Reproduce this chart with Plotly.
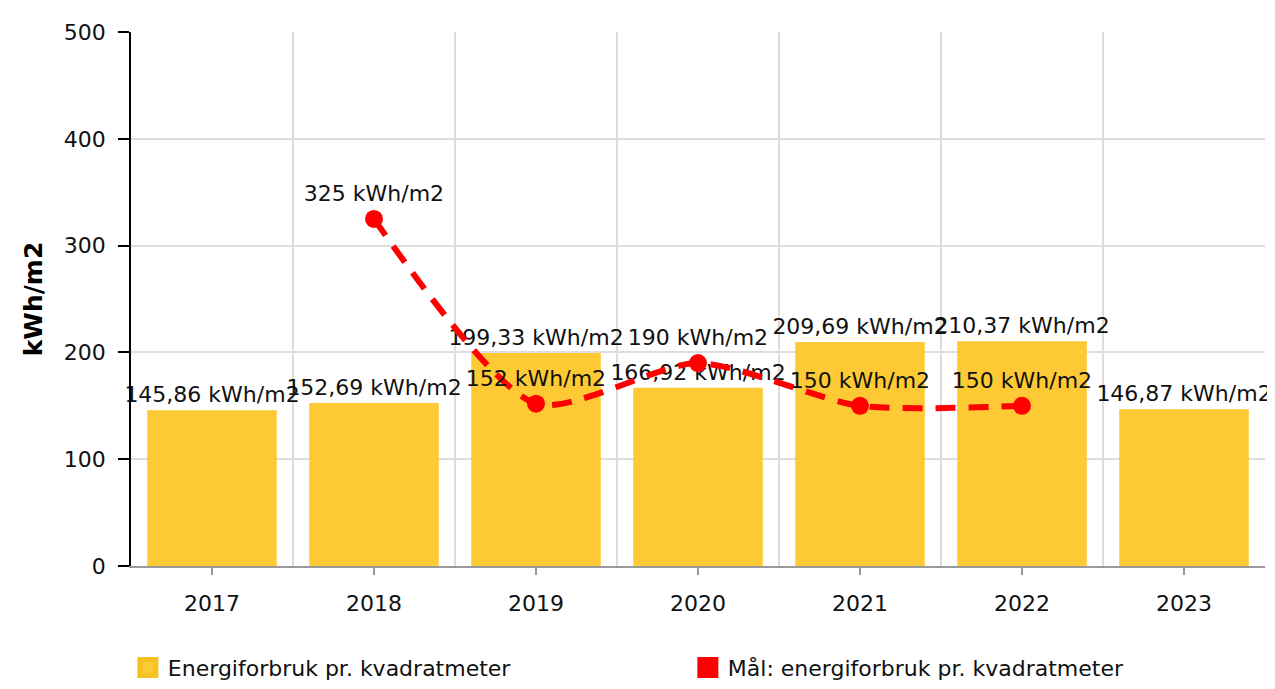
import plotly.graph_objects as go

years = ["2017", "2018", "2019", "2020", "2021", "2022", "2023"]
consumption = [145.86, 152.69, 199.33, 166.92, 209.69, 210.37, 146.87]
goal_years = ["2018", "2019", "2020", "2021", "2022"]
goal_values = [325, 152, 190, 150, 150]
y_ticks = [0, 100, 200, 300, 400, 500]

bar_name = "Energiforbruk pr. kvadratmeter"
goal_name = "Mål: energiforbruk pr. kvadratmeter"

def fmt(v):
    s = f"{v:.2f}" if v != int(v) else str(int(v))
    return s.replace(".", ",") + " kWh/m2"

xpos = list(range(len(years)))
goal_x = [years.index(y) for y in goal_years]

FONT = "DejaVu Sans"
TXT = "#111111"
GOLD = "#FDCA35"
RED = "#FF0000"
fig = go.Figure()
fig.add_trace(go.Bar(
    x=xpos, y=consumption, name=bar_name,
    marker=dict(color=GOLD, line=dict(width=0)),
    width=0.8,
    text=[fmt(v) for v in consumption], textposition="outside",
    constraintext="none", cliponaxis=False,
    textfont=dict(family=FONT, size=22, color=TXT),
    showlegend=False,
))
fig.add_trace(go.Scatter(
    x=goal_x, y=goal_values, mode="lines+markers+text", name=goal_name,
    line=dict(color=RED, width=6, dash="20px,13px", shape="spline", smoothing=0.7),
    marker=dict(color=RED, size=18),
    text=[fmt(v) for v in goal_values], textposition="top center",
    textfont=dict(family=FONT, size=22, color=TXT),
    showlegend=False, cliponaxis=False,
))
# legend entries (square swatches)
fig.add_trace(go.Scatter(
    x=[None], y=[None], mode="markers", name=bar_name,
    marker=dict(color=GOLD, symbol="square", size=16, line=dict(color="#F6C21F", width=5)),
))
fig.add_trace(go.Scatter(
    x=[None], y=[None], mode="markers", name=goal_name,
    marker=dict(color=RED, symbol="square", size=16, line=dict(color=RED, width=5)),
))

fig.update_layout(
    width=1275, height=689,
    margin=dict(l=123, r=18, t=24, b=131),
    plot_bgcolor="white", paper_bgcolor="white",
    font=dict(family=FONT, size=22, color=TXT),
    bargap=0.2,
    legend=dict(orientation="h", xref="container", x=0.094, xanchor="left",
                yref="container", y=0.073, yanchor="top",
                entrywidth=515, font=dict(family=FONT, size=22, color=TXT),
                itemsizing="trace"),
    xaxis=dict(
        range=[-0.5, 6.5], tickvals=xpos, ticktext=years, automargin=False,
        showgrid=False, zeroline=False,
        showline=True, linecolor="#999999", linewidth=1.5,
        ticks="outside", ticklen=7, tickcolor="#999999", tickwidth=1.5,
        ticklabelstandoff=10,
        tickfont=dict(family=FONT, size=22, color=TXT),
        minor=dict(tickvals=[i + 0.5 for i in range(-1, 7)], showgrid=True,
                   gridcolor="#DDDDDD", gridwidth=1.5, ticks=""),
    ),
    yaxis=dict(
        range=[0, 500], tickvals=y_ticks, automargin=False,
        showgrid=True, gridcolor="#DDDDDD", gridwidth=1.5, zeroline=False,
        showline=True, linecolor="#000000", linewidth=1.5,
        ticks="outside", ticklen=11, tickcolor="#000000", tickwidth=1.5,
        ticklabelstandoff=8,
        tickfont=dict(family=FONT, size=22, color=TXT),
        title=dict(text="<b>kWh/m2</b>", font=dict(family=FONT, size=25, color="#000"), standoff=14),
    ),
)
fig.write_html("out.html")
